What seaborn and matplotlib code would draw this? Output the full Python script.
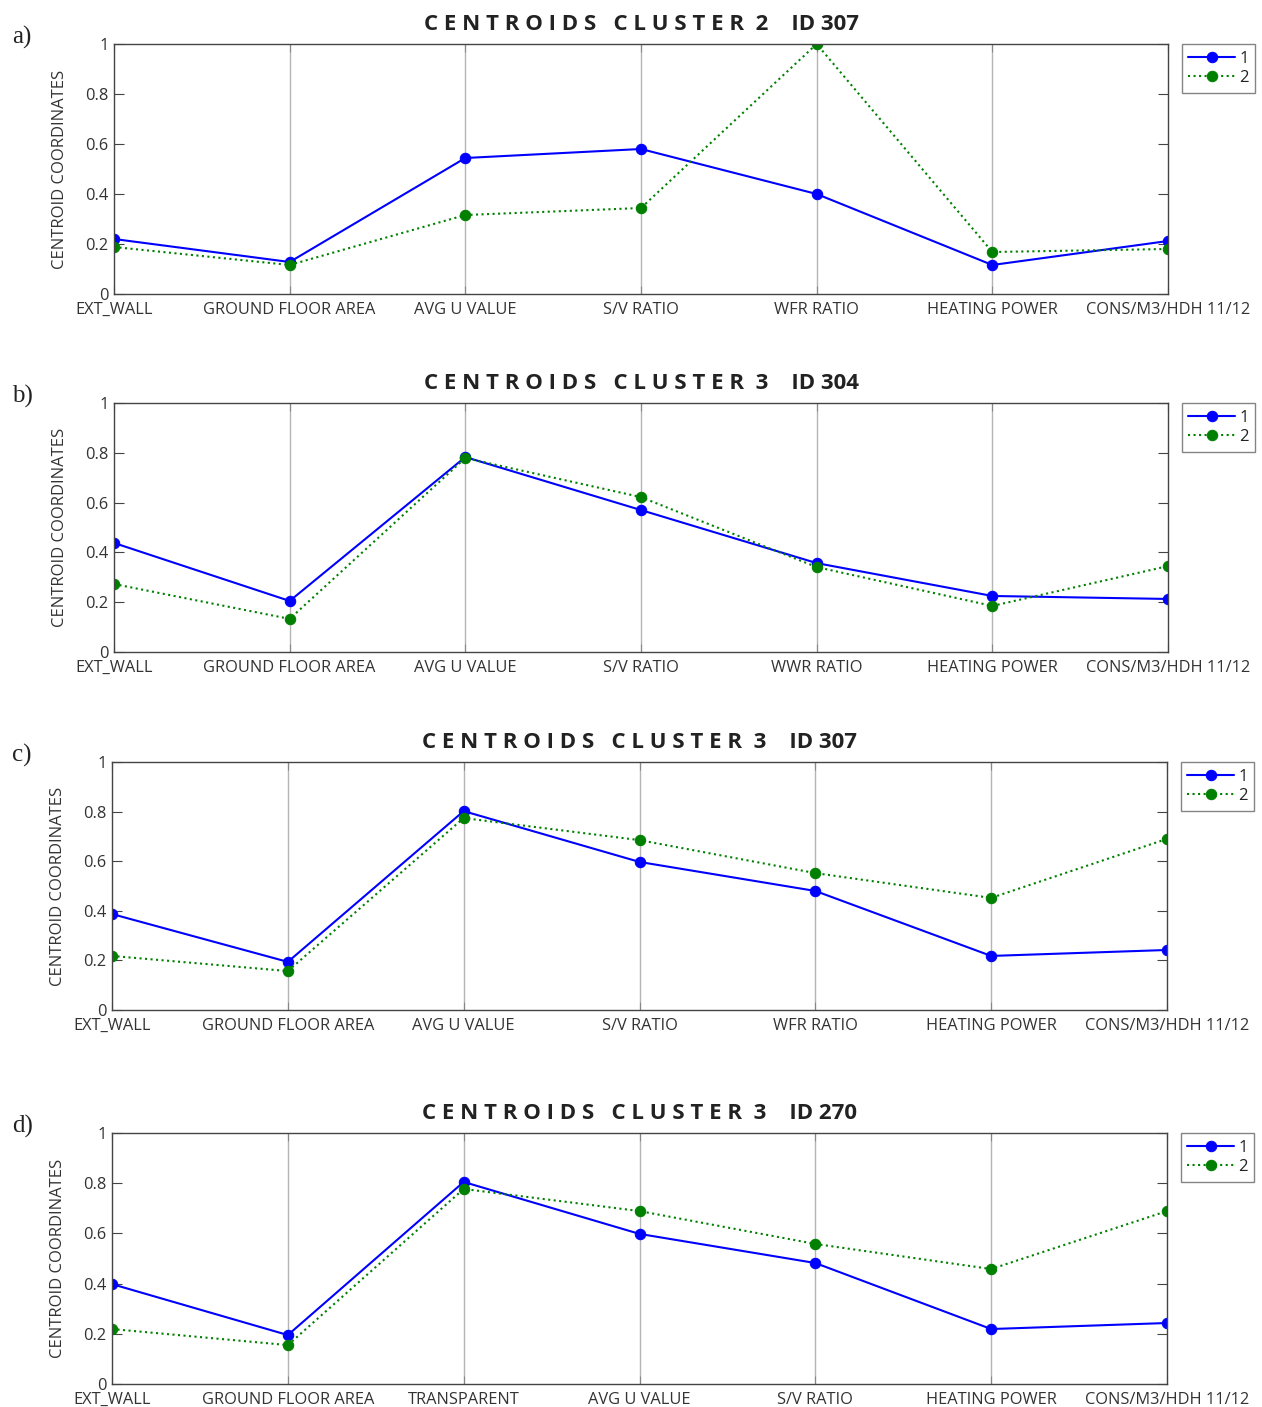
import numpy as np
import pandas as pd
import matplotlib
matplotlib.use("Agg")
import matplotlib.pyplot as plt
import seaborn as sns

# ── Data ──────────────────────────────────────
labels_a = ["EXT_WALL", "GROUND FLOOR AREA", "AVG U VALUE", "S/V RATIO",
            "WFR RATIO", "HEATING POWER", "CONS/M3/HDH 11/12"]
labels_b = ["EXT_WALL", "GROUND FLOOR AREA", "AVG U VALUE", "S/V RATIO",
            "WWR RATIO", "HEATING POWER", "CONS/M3/HDH 11/12"]
labels_c = labels_a
labels_d = ["EXT_WALL", "GROUND FLOOR AREA", "TRANSPARENT", "AVG U VALUE",
            "S/V RATIO", "HEATING POWER", "CONS/M3/HDH 11/12"]

a_s1 = [0.220, 0.128, 0.544, 0.580, 0.400, 0.116, 0.212]
a_s2 = [0.188, 0.116, 0.316, 0.344, 1.000, 0.168, 0.180]
b_s1 = [0.438, 0.205, 0.783, 0.570, 0.357, 0.225, 0.213]
b_s2 = [0.273, 0.133, 0.779, 0.622, 0.341, 0.185, 0.345]
c_s1 = [0.387, 0.194, 0.802, 0.597, 0.480, 0.218, 0.242]
c_s2 = [0.218, 0.157, 0.774, 0.685, 0.552, 0.452, 0.690]
d_s1 = [0.398, 0.195, 0.805, 0.598, 0.482, 0.219, 0.243]
d_s2 = [0.219, 0.155, 0.777, 0.689, 0.558, 0.458, 0.689]

titles = [("2", "307"), ("3", "304"), ("3", "307"), ("3", "270")]
letters = ["a)", "b)", "c)", "d)"]
yticks = [0, 0.2, 0.4, 0.6, 0.8, 1]
ytick_labels = ["0", "0.2", "0.4", "0.6", "0.8", "1"]

panels = [
    (labels_a, a_s1, a_s2),
    (labels_b, b_s1, b_s2),
    (labels_c, c_s1, c_s2),
    (labels_d, d_s1, d_s2),
]

# ── Style ─────────────────────────────────────
sns.set_style("ticks")
plt.rcParams["font.family"] = ["Open Sans", "DejaVu Sans"]
plt.rcParams["axes.edgecolor"] = "#444444"
plt.rcParams["text.color"] = "#222222"

W, H = 1262, 1407
fig = plt.figure(figsize=(W / 100, H / 100), dpi=100)

# axes boxes in pixels: (left, top, right, bottom)
boxes = [(114, 44, 1168, 294), (114, 403, 1168, 652),
         (112, 762, 1167, 1010), (112, 1133, 1167, 1384)]


def spaced(word):
    return " ".join(word)


for (labels, s1, s2), (cl, cid), letter, (l, t, r, b) in zip(panels, titles, letters, boxes):
    ax = fig.add_axes([l / W, 1 - b / H, (r - l) / W, (b - t) / H])
    df = pd.DataFrame({"pos": np.arange(len(labels)), "s1": s1, "s2": s2})

    for x in range(1, len(labels) - 1):
        ax.axvline(x, color="#b5b5b5", lw=1.0, zorder=0)

    sns.lineplot(data=df, x="pos", y="s1", ax=ax, color="#0000ff", lw=1.5,
                 marker="o", markersize=7.5, markeredgecolor="#0000ff", label="1")
    sns.lineplot(data=df, x="pos", y="s2", ax=ax, color="#008000", lw=1.5,
                 linestyle=":", marker="o", markersize=7.5,
                 markeredgecolor="#008000", label="2")

    ax.set_xlim(0, len(labels) - 1)
    ax.set_ylim(0, 1)
    ax.set_xticks(np.arange(len(labels)))
    ax.set_xticklabels(labels, fontsize=11.8, color="#333333")
    ax.set_yticks(yticks)
    ax.set_yticklabels(ytick_labels, fontsize=11.8, color="#333333")
    ax.tick_params(axis="y", direction="in", length=7, right=True, width=0.8,
                   color="#444444", pad=4)
    ax.tick_params(axis="x", direction="in", length=6, top=True, width=0.8,
                   color="#888888", pad=6)
    ax.set_xlabel("")
    ax.set_ylabel("CENTROID COORDINATES", fontsize=12, color="#333333", labelpad=12)
    for sp in ax.spines.values():
        sp.set_visible(True)
        sp.set_linewidth(1.0)

    title = spaced("CENTROIDS") + "   " + spaced("CLUSTER") + "  " + cl + "    ID " + cid
    ax.set_title(title, fontsize=16, fontweight="bold", color="#222222", pad=10)

    fig.text(12 / W, 1 - (t - 7) / H, letter, fontsize=18,
             family="Liberation Serif", va="center", ha="left")

    ax.legend(loc="upper left", bbox_to_anchor=(1.013, 1.0), fontsize=12,
              frameon=True, fancybox=False, edgecolor="#666666",
              handlelength=2.8, handletextpad=0.25, borderpad=0.4,
              labelspacing=0.2, borderaxespad=0.0)

fig.savefig("out.png", dpi=100)
